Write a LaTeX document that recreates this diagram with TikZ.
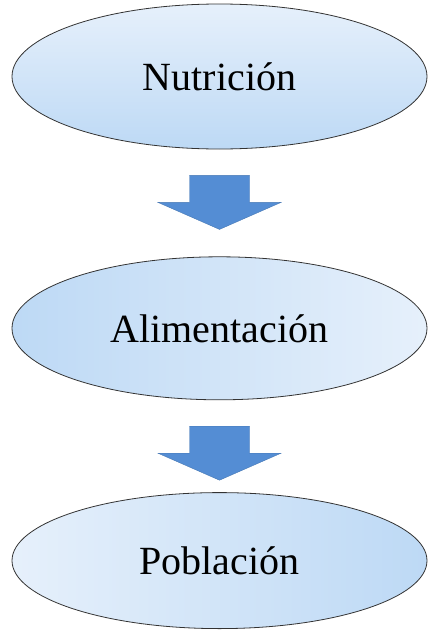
\documentclass[tikz,border=0pt]{standalone}
\usepackage{fontspec}
\setmainfont{Liberation Serif}
\usetikzlibrary{positioning, calc, shapes.geometric}

\definecolor{azul}{RGB}{84,141,212}
\definecolor{claro}{RGB}{230,240,251}
\definecolor{medio}{RGB}{189,217,245}

% block arrow hanging below node #1
\newcommand{\flecha}[1]{%
  \coordinate (m#1) at ($(#1.south)+(0,53)$);
  \filldraw[bloque] ($(m#1)+(-30,-27)$) -- ($(m#1)+(30,-27)$) -- ($(m#1)+(30,0)$)
    -- ($(m#1)+(61.5,0)$) -- ($(m#1)+(0,27)$) -- ($(m#1)+(-61.5,0)$)
    -- ($(m#1)+(-30,0)$) -- cycle;}

\begin{document}
\begin{tikzpicture}[x=1pt, y=-1pt,
globo/.style={ellipse, draw=black!80, line width=0.8pt, minimum width=415pt, minimum height=145pt, inner sep=0pt, font=\fontsize{40}{48}\selectfont},
bloque/.style={fill=azul, draw=azul!85!black, line width=0.4pt},
]
\useasboundingbox (0,0) rectangle (429,637);

%Nodes
\node[globo, top color=claro, bottom color=medio]   (nut)  at (219.5,76.5)      {Nutrición};
\node[globo, left color=medio, right color=claro, minimum height=143pt]  (ali)  [below=107pt of nut] {Alimentación};
\node[globo, left color=claro, right color=medio, minimum height=136pt]  (pob)  [below=92pt of ali]  {Población};

%Arrows
\flecha{nut}
\flecha{ali}
\end{tikzpicture}
\end{document}
